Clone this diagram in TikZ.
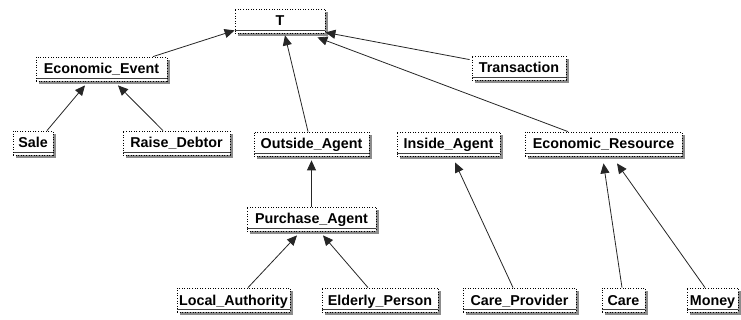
\documentclass[tikz,border=0pt]{standalone}
\usepackage{fontspec}
\setmainfont{Liberation Sans}
\usetikzlibrary{arrows.meta,shadows}

\tikzset{
  cls/.style={
    rectangle, fill=white, draw=black, line width=0.8pt,
    dash pattern=on 1pt off 1.6pt,
    minimum height=24pt, inner sep=0pt,
    text height=10pt, text depth=0pt,
    font=\fontsize{14.3}{16}\selectfont\bfseries,
    drop shadow={shadow xshift=3pt, shadow yshift=-3pt, fill=black!45, opacity=1},
    path picture={
      \draw[solid, line width=1.2pt, black!75]
        ([yshift=2.2pt]path picture bounding box.south west) --
        ([yshift=2.2pt]path picture bounding box.south east);
    }
  },
  isa/.style={draw=black!85, line width=0.8pt,
    -{Triangle[length=10pt,width=9pt]}}
}

\begin{document}
\begin{tikzpicture}[x=1pt, y=-1pt]
  \useasboundingbox (0,0) rectangle (741,320);

  % classes
  \node[cls, minimum width=90pt]  (T)    at (280,21)    {T};
  \node[cls, minimum width=131pt] (ee)   at (101.5,69)  {Economic\_Event};
  \node[cls, minimum width=94pt]  (tr)   at (519,68)    {Transaction};
  \node[cls, minimum width=40pt]  (sale) at (33,143)    {Sale};
  \node[cls, minimum width=107pt] (rd)   at (176.5,143) {Raise\_Debtor};
  \node[cls, minimum width=115pt] (oa)   at (311.5,144) {Outside\_Agent};
  \node[cls, minimum width=103pt] (ia)   at (448.5,144) {Inside\_Agent};
  \node[cls, minimum width=157pt] (er)   at (603.5,144) {Economic\_Resource};
  \node[cls, minimum width=129pt] (pa)   at (311.5,219) {Purchase\_Agent};
  \node[cls, minimum width=113pt] (la)   at (233.5,300) {Local\_Authority};
  \node[cls, minimum width=116pt] (ep)   at (380,300)   {Elderly\_Person};
  \node[cls, minimum width=113pt] (cp)   at (519.5,300) {Care\_Provider};
  \node[cls, minimum width=43pt]  (care) at (623.5,300) {Care};
  \node[cls, minimum width=51pt]  (mon)  at (712.5,300) {Money};

  % generalisation links
  \draw[isa] ([xshift=51.5pt]ee.north) -- ([yshift=3pt]T.south west);
  \draw[isa] ([xshift=-3.5pt]oa.north) -- ([xshift=5pt,yshift=-2pt]T.south);
  \draw[isa] ([xshift=-35.5pt]er.north) -- ([xshift=-8pt,yshift=-4pt]T.south east);
  \draw[isa] ([xshift=-2pt,yshift=-4pt]tr.north west) -- ([yshift=1pt]T.south east);

  \draw[isa] ([xshift=14pt]sale.north) -- ([xshift=-16.5pt,yshift=-4pt]ee.south);
  \draw[isa] ([xshift=-13.5pt]rd.north) -- ([xshift=16.5pt,yshift=-4pt]ee.south);

  \draw[isa] (pa.north) -- ([yshift=-4pt]oa.south);
  \draw[isa] ([xshift=14.5pt]la.north) -- ([xshift=-14.5pt,yshift=-4pt]pa.south);
  \draw[isa] ([xshift=-12pt]ep.north) -- ([xshift=11.5pt,yshift=-4pt]pa.south);

  \draw[isa] ([xshift=-6.5pt]cp.north) -- ([xshift=6.5pt,yshift=-6pt]ia.south);
  \draw[isa] ([xshift=-1.5pt]care.north) -- ([yshift=-7pt]er.south);
  \draw[isa] ([xshift=-7.5pt]mon.north) -- ([xshift=13.5pt,yshift=-7pt]er.south);
\end{tikzpicture}
\end{document}
